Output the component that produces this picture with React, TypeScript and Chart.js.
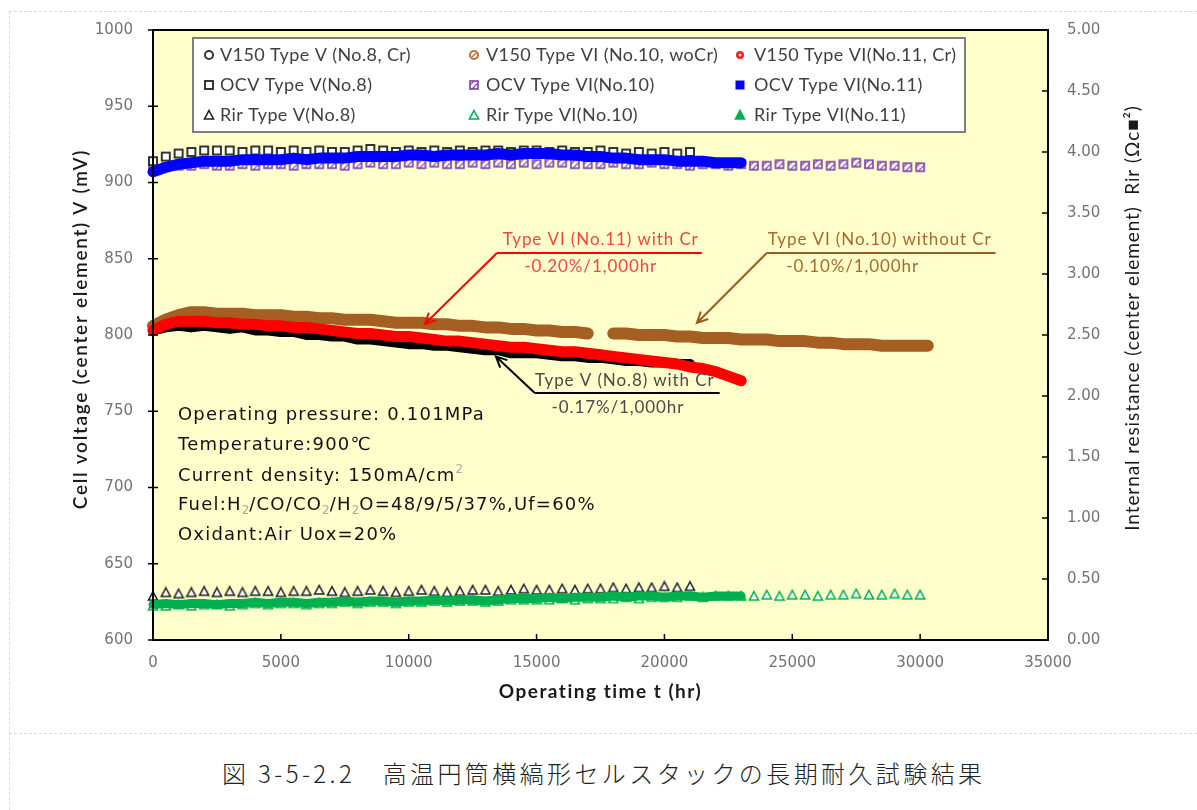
import React, { useEffect, useRef } from "react";
import { Chart, registerables } from "chart.js";

Chart.register(...registerables);

// Operating hours at which each cell was sampled
const hoursNo8 = [0, 500, 1000, 1500, 2000, 2500, 3000, 3500, 4000, 4500, 5000, 5500, 6000, 6500, 7000, 7500, 8000, 8500, 9000, 9500, 10000, 10500, 11000, 11500, 12000, 12500, 13000, 13500, 14000, 14500, 15000, 15500, 16000, 16500, 17000, 17500, 18000, 18500, 19000, 19500, 20000, 20500, 21000];
const hoursNo10 = [0, 500, 1000, 1500, 2000, 2500, 3000, 3500, 4000, 4500, 5000, 5500, 6000, 6500, 7000, 7500, 8000, 8500, 9000, 9500, 10000, 10500, 11000, 11500, 12000, 12500, 13000, 13500, 14000, 14500, 15000, 15500, 16000, 16500, 17000, 17500, 18000, 18500, 19000, 19500, 20000, 20500, 21000, 21500, 22000, 22500, 23000, 23500, 24000, 24500, 25000, 25500, 26000, 26500, 27000, 27500, 28000, 28500, 29000, 29500, 30000, 30300];
const hoursNo11 = [0, 500, 1000, 1500, 2000, 2500, 3000, 3500, 4000, 4500, 5000, 5500, 6000, 6500, 7000, 7500, 8000, 8500, 9000, 9500, 10000, 10500, 11000, 11500, 12000, 12500, 13000, 13500, 14000, 14500, 15000, 15500, 16000, 16500, 17000, 17500, 18000, 18500, 19000, 19500, 20000, 20500, 21000, 21500, 22000, 22500, 23000];

// Cell voltage at 150 mA/cm2 (mV)
const v150No8 = [803, 805, 806, 805, 806, 805, 804, 805, 803, 803, 802, 802, 800, 800, 799, 799, 797, 797, 796, 795, 794, 794, 793, 793, 792, 791, 790, 790, 788, 788, 788, 787, 786, 786, 785, 785, 784, 783, 783, 782, 782, 781, 781];
const v150No10 = [806, 810, 813, 815, 815, 814, 814, 814, 813, 813, 813, 812, 812, 811, 811, 810, 810, 810, 809, 808, 808, 808, 807, 807, 806, 806, 805, 805, 804, 804, 803, 803, 802, 802, 801, null, 801, 801, 800, 800, 800, 799, 799, 798, 798, 798, 797, 797, 797, 796, 796, 796, 795, 795, 794, 794, 794, 793, 793, 793, 793, 793];
const v150No11 = [803, 807, 809, 809, 809, 808, 808, 807, 807, 806, 806, 805, 805, 804, 803, 802, 801, 801, 800, 799, 799, 798, 797, 796, 796, 795, 794, 793, 792, 792, 791, 790, 789, 789, 788, 787, 786, 785, 784, 783, 782, 781, 779, 778, 776, 773, 770];

// Open circuit voltage (mV)
const ocvNo8 = [914, 917, 919, 920, 921, 921, 921, 920, 921, 921, 920, 921, 920, 921, 920, 920, 921, 922, 921, 920, 921, 920, 921, 920, 921, 920, 921, 921, 920, 921, 921, 920, 921, 920, 920, 921, 920, 919, 920, 919, 920, 919, 920];
const ocvNo10 = [909, 910, 911, 911, 912, 911, 911, 912, 911, 912, 912, 911, 912, 912, 912, 911, 912, 913, 912, 912, 913, 912, 913, 912, 912, 913, 912, 913, 912, 913, 912, 913, 913, 912, 912, 912, 913, 912, 912, 913, 912, 912, 911, 912, 912, 911, 912, 911, 911, 912, 911, 911, 912, 911, 912, 913, 912, 911, 911, 910, 910, null];
const ocvNo11 = [907, 910, 912, 913, 914, 914, 914, 915, 915, 915, 915, 916, 915, 916, 916, 916, 917, 917, 917, 917, 918, 918, 917, 918, 918, 918, 918, 919, 918, 919, 919, 919, 918, 918, 917, 917, 916, 916, 915, 915, 915, 914, 914, 914, 913, 913, 913];

// Internal resistance (ohm cm2)
const rirNo8 = [0.36, 0.39, 0.38, 0.39, 0.40, 0.39, 0.40, 0.39, 0.40, 0.40, 0.39, 0.40, 0.40, 0.41, 0.40, 0.39, 0.40, 0.41, 0.40, 0.39, 0.40, 0.41, 0.40, 0.39, 0.40, 0.41, 0.41, 0.40, 0.41, 0.42, 0.41, 0.41, 0.42, 0.41, 0.42, 0.42, 0.43, 0.42, 0.43, 0.43, 0.44, 0.43, 0.44];
const rirNo10 = [0.28, 0.28, 0.29, 0.28, 0.29, 0.29, 0.28, 0.29, 0.30, 0.29, 0.30, 0.30, 0.29, 0.30, 0.30, 0.31, 0.30, 0.31, 0.31, 0.30, 0.31, 0.31, 0.32, 0.31, 0.32, 0.32, 0.31, 0.32, 0.33, 0.33, 0.33, 0.33, 0.34, 0.33, 0.34, 0.34, 0.34, 0.35, 0.34, 0.35, 0.35, 0.35, 0.36, 0.35, 0.36, 0.36, 0.36, 0.36, 0.37, 0.36, 0.37, 0.37, 0.36, 0.37, 0.37, 0.38, 0.37, 0.37, 0.38, 0.37, 0.37, null];
const rirNo11 = [0.29, 0.30, 0.29, 0.30, 0.30, 0.29, 0.30, 0.30, 0.31, 0.30, 0.31, 0.31, 0.30, 0.31, 0.31, 0.32, 0.31, 0.32, 0.32, 0.31, 0.32, 0.32, 0.33, 0.32, 0.33, 0.33, 0.32, 0.33, 0.34, 0.34, 0.34, 0.35, 0.34, 0.35, 0.35, 0.35, 0.36, 0.35, 0.36, 0.36, 0.35, 0.36, 0.36, 0.35, 0.36, 0.36, 0.36];

// Axis tick values
const timeTicks = [0, 5000, 10000, 15000, 20000, 25000, 30000, 35000];
const voltageTicks = [600, 650, 700, 750, 800, 850, 900, 950, 1000];
const resistanceTicks = [0, 0.5, 1, 1.5, 2, 2.5, 3, 3.5, 4, 4.5, 5];

const seriesNames = [
  "V150 Type V (No.8, Cr)",
  "V150 Type VI (No.10, woCr)",
  "V150 Type VI(No.11, Cr)",
  "OCV Type V(No.8)",
  "OCV Type VI(No.10)",
  "OCV Type VI(No.11)",
  "Rir Type V(No.8)",
  "Rir Type VI(No.10)",
  "Rir Type VI(No.11)",
];

const conditionLines = [
  [{ t: "Operating pressure: 0.101MPa" }],
  [{ t: "Temperature:900℃" }],
  [{ t: "Current density: 150mA/cm" }, { t: "2", k: "sup" }],
  [{ t: "Fuel:H" }, { t: "2", k: "sub" }, { t: "/CO/CO" }, { t: "2", k: "sub" }, { t: "/H" }, { t: "2", k: "sub" }, { t: "O=48/9/5/37%,Uf=60%" }],
  [{ t: "Oxidant:Air Uox=20%" }],
];

const BROWN = "#A55F22";
const RED = "#FF0000";
const GREEN = "#00B050";
const BLUE = "#0000FF";
const PURPLE = "#7B3FA8";

const pts = (hours: number[], vals: (number | null)[]) => hours.map((x, i) => ({ x, y: vals[i] }));

function mk(w: number, h: number, draw: (g: CanvasRenderingContext2D) => void) {
  const c = document.createElement("canvas");
  c.width = w;
  c.height = h;
  draw(c.getContext("2d")!);
  return c;
}

function spacing(ctx: any, px: number) {
  ctx.letterSpacing = px + "px";
}

function arrow(ctx: CanvasRenderingContext2D, x0: number, y0: number, x1: number, y1: number, color: string) {
  ctx.save();
  ctx.strokeStyle = color;
  ctx.lineWidth = 2;
  ctx.beginPath();
  ctx.moveTo(x0, y0);
  ctx.lineTo(x1, y1);
  const a = Math.atan2(y1 - y0, x1 - x0);
  const L = 12;
  ctx.moveTo(x1 - L * Math.cos(a - 0.45), y1 - L * Math.sin(a - 0.45));
  ctx.lineTo(x1, y1);
  ctx.lineTo(x1 - L * Math.cos(a + 0.45), y1 - L * Math.sin(a + 0.45));
  ctx.stroke();
  ctx.restore();
}

function rich(ctx: CanvasRenderingContext2D, segs: any[], x: number, y: number) {
  let cx = x;
  for (const s of segs) {
    ctx.font = s.k ? "12px 'DejaVu Sans'" : "18px 'DejaVu Sans'";
    spacing(ctx, s.k ? 0 : 1.2);
    ctx.fillStyle = s.k ? "#a8a8a8" : "#111";
    const dy = s.k === "sub" ? 6 : s.k === "sup" ? -6 : 0;
    ctx.fillText(s.t, cx, y + dy);
    cx += ctx.measureText(s.t).width;
  }
  spacing(ctx, 0);
}

export default function App() {
  const ref = useRef<HTMLCanvasElement>(null);

  useEffect(() => {
    const canvas = ref.current!;

    const circOpenBlack = mk(12, 12, (g) => {
      g.beginPath(); g.arc(6, 6, 4, 0, Math.PI * 2);
      g.fillStyle = "#fff"; g.fill(); g.lineWidth = 2; g.strokeStyle = "#333"; g.stroke();
    });
    const circBrown = mk(12, 12, (g) => {
      g.beginPath(); g.arc(6, 6, 4, 0, Math.PI * 2);
      g.fillStyle = "#fff"; g.fill(); g.lineWidth = 2.2; g.strokeStyle = "#B8743A"; g.stroke();
      g.beginPath(); g.moveTo(4, 8); g.lineTo(8, 4); g.lineWidth = 1.5; g.stroke();
    });
    const circRed = mk(12, 12, (g) => {
      g.beginPath(); g.arc(6, 6, 4, 0, Math.PI * 2);
      g.fillStyle = "#FF2020"; g.fill();
      g.beginPath(); g.moveTo(6, 4.3); g.lineTo(7.7, 6); g.lineTo(6, 7.7); g.lineTo(4.3, 6); g.closePath();
      g.fillStyle = "#fff"; g.fill();
    });
    const sqOpenBlack = mk(12, 12, (g) => {
      g.fillStyle = "#fff"; g.fillRect(2, 2, 8, 8);
      g.lineWidth = 1.8; g.strokeStyle = "#222"; g.strokeRect(2, 2, 8, 8);
    });
    const sqHatch = mk(12, 12, (g) => {
      g.fillStyle = "#fff"; g.fillRect(2, 2, 8, 8);
      g.save(); g.beginPath(); g.rect(2, 2, 8, 8); g.clip();
      g.strokeStyle = PURPLE; g.lineWidth = 1.2;
      g.beginPath(); g.moveTo(3, 11); g.lineTo(11, 3); g.moveTo(-1, 9); g.lineTo(7, 1); g.stroke();
      g.restore();
      g.lineWidth = 1.6; g.strokeStyle = PURPLE; g.strokeRect(2, 2, 8, 8);
    });
    const sqBlue = mk(12, 12, (g) => { g.fillStyle = BLUE; g.fillRect(1.5, 1.5, 9, 9); });
    const tri = (fill: string, stroke: string) => mk(12, 12, (g) => {
      g.beginPath(); g.moveTo(6, 1.5); g.lineTo(10.5, 10); g.lineTo(1.5, 10); g.closePath();
      g.fillStyle = fill; g.fill(); g.lineWidth = 1.6; g.strokeStyle = stroke; g.stroke();
    });
    const triOpenBlack = tri("#fff", "#222");
    const triOpenGreen = tri("#fff", GREEN);
    const triGreen = tri(GREEN, GREEN);

    const legendMarkers = [circOpenBlack, circBrown, circRed, sqOpenBlack, sqHatch, sqBlue, triOpenBlack, triOpenGreen, triGreen];

    const band = (color: string, width: number, radius: number, style: any) => ({
      showLine: true,
      borderColor: color,
      borderWidth: width,
      borderCapStyle: "round",
      borderJoinStyle: "round",
      tension: 0,
      pointRadius: radius,
      pointStyle: style,
      pointBackgroundColor: color,
      pointBorderColor: color,
      pointBorderWidth: 0,
      clip: 6,
    });
    const marks = (img: HTMLCanvasElement) => ({
      showLine: false,
      pointStyle: img,
      pointRadius: 5,
      clip: 6,
    });

    const decor = {
      id: "decor",
      beforeDraw(c: any) {
        const { ctx, chartArea: a } = c;
        ctx.save();
        ctx.fillStyle = "#FFFFCC";
        ctx.fillRect(a.left, a.top, a.right - a.left, a.bottom - a.top);
        ctx.restore();
      },
      afterDraw(c: any) {
        const { ctx, chartArea: a, scales } = c;
        const X = (v: number) => scales.x.getPixelForValue(v);
        const Y = (v: number) => scales.y.getPixelForValue(v);
        const Y1 = (v: number) => scales.y1.getPixelForValue(v);
        ctx.save();

        // plot frame and tick marks
        ctx.strokeStyle = "#000";
        ctx.lineWidth = 2;
        ctx.strokeRect(a.left, a.top, a.right - a.left, a.bottom - a.top);
        ctx.lineWidth = 1.5;
        ctx.beginPath();
        voltageTicks.forEach((v) => { ctx.moveTo(a.left - 5, Y(v)); ctx.lineTo(a.left + 5, Y(v)); });
        resistanceTicks.forEach((v) => { ctx.moveTo(a.right, Y1(v)); ctx.lineTo(a.right - 6, Y1(v)); });
        timeTicks.forEach((v) => { ctx.moveTo(X(v), a.bottom); ctx.lineTo(X(v), a.bottom - 6); });
        ctx.stroke();

        // axis titles
        ctx.fillStyle = "#1a1a1a";
        ctx.textAlign = "center";
        ctx.textBaseline = "middle";
        ctx.font = "bold 19px Lato";
        spacing(ctx, 1.5);
        ctx.fillText("Operating time t (hr)", (a.left + a.right) / 2, 692);
        ctx.save();
        ctx.translate(81, 329);
        ctx.rotate(-Math.PI / 2);
        ctx.font = "600 19px Lato";
        spacing(ctx, 1.7);
        ctx.fillText("Cell voltage (center element) V (mV)", 0, 0);
        ctx.restore();
        ctx.save();
        ctx.translate(1133, 318);
        ctx.rotate(-Math.PI / 2);
        ctx.font = "19px Lato";
        spacing(ctx, 0.9);
        ctx.fillText("Internal resistance (center element)  Rir (Ωc■²)", 0, 0);
        ctx.restore();

        // legend box
        ctx.fillStyle = "#fff";
        ctx.fillRect(193, 38, 772, 94);
        ctx.strokeStyle = "#7f7f7f";
        ctx.lineWidth = 2;
        ctx.strokeRect(193, 38, 772, 94);
        const colMark = [209, 474, 740];
        const colText = [220, 486, 754];
        const rows = [55, 85, 115];
        ctx.textAlign = "left";
        ctx.font = "18px Lato";
        spacing(ctx, 0.4);
        ctx.fillStyle = "#404040";
        seriesNames.forEach((name, i) => {
          const r = Math.floor(i / 3), col = i % 3;
          ctx.drawImage(legendMarkers[i], colMark[col] - 6, rows[r] - 6);
          ctx.fillText(name, colText[col], rows[r]);
        });
        spacing(ctx, 0);

        // operating conditions
        ctx.textAlign = "left";
        const condRows = [415, 445, 476, 505, 535];
        conditionLines.forEach((segs, i) => rich(ctx, segs, 178, condRows[i]));

        // degradation rate annotations
        ctx.font = "17px Lato";
        spacing(ctx, 0.9);
        ctx.textAlign = "center";
        // Type VI No.11
        ctx.strokeStyle = RED;
        ctx.lineWidth = 2;
        ctx.beginPath(); ctx.moveTo(X(13450), Y(853.8)); ctx.lineTo(X(21460), Y(853.8)); ctx.stroke();
        arrow(ctx, X(13450), Y(853.8), X(10630), Y(807.2), RED);
        ctx.fillStyle = "#F04545";
        ctx.fillText("Type VI (No.11) with Cr", X(17510), Y(862.6));
        ctx.fillText("-0.20%/1,000hr", X(17120), Y(845.0));
        // Type VI No.10
        ctx.strokeStyle = "#9C5A1E";
        ctx.beginPath(); ctx.moveTo(X(24000), Y(853.8)); ctx.lineTo(X(32950), Y(853.8)); ctx.stroke();
        arrow(ctx, X(24000), Y(853.8), X(21270), Y(807.9), "#9C5A1E");
        ctx.fillStyle = "#A8682E";
        ctx.fillText("Type VI (No.10) without Cr", X(28420), Y(862.6));
        ctx.fillText("-0.10%/1,000hr", X(27360), Y(845.0));
        // Type V No.8
        ctx.strokeStyle = "#000";
        ctx.beginPath(); ctx.moveTo(X(14930), Y(762)); ctx.lineTo(X(22160), Y(762)); ctx.stroke();
        arrow(ctx, X(14930), Y(762), X(13410), Y(785.9), "#000");
        ctx.fillStyle = "#4a4a4a";
        ctx.fillText("Type V (No.8) with Cr", X(18450), Y(770.4));
        ctx.fillText("-0.17%/1,000hr", X(18180), Y(752.6));
        spacing(ctx, 0);

        ctx.restore();
      },
    };

    const tickFont = { family: "'DejaVu Sans'", size: 15 };
    const tickColor = "#737373";

    const chart = new Chart(canvas, {
      type: "scatter",
      data: {
        datasets: [
          { label: seriesNames[0], data: pts(hoursNo8, v150No8), yAxisID: "y", order: 3, ...band("#000", 10, 4.5, "circle") },
          { label: seriesNames[1], data: pts(hoursNo10, v150No10), yAxisID: "y", order: 2, ...band(BROWN, 12, 5, "circle") },
          { label: seriesNames[2], data: pts(hoursNo11, v150No11), yAxisID: "y", order: 1, ...band(RED, 11, 5, "circle") },
          { label: seriesNames[3], data: pts(hoursNo8, ocvNo8), yAxisID: "y", order: 5, ...marks(sqOpenBlack) },
          { label: seriesNames[4], data: pts(hoursNo10, ocvNo10), yAxisID: "y", order: 6, ...marks(sqHatch) },
          { label: seriesNames[5], data: pts(hoursNo11, ocvNo11), yAxisID: "y", order: 4, ...band(BLUE, 11, 5, "rect") },
          { label: seriesNames[6], data: pts(hoursNo8, rirNo8), yAxisID: "y1", order: 9, ...marks(triOpenBlack) },
          { label: seriesNames[7], data: pts(hoursNo10, rirNo10), yAxisID: "y1", order: 8, ...marks(triOpenGreen) },
          { label: seriesNames[8], data: pts(hoursNo11, rirNo11), yAxisID: "y1", order: 7, ...band(GREEN, 9, 4.5, "triangle") },
        ] as any,
      },
      options: {
        responsive: false,
        animation: false,
        devicePixelRatio: 1,
        layout: { padding: { top: 30, left: 0, right: 0, bottom: 0 } },
        plugins: { legend: { display: false }, tooltip: { enabled: false } },
        scales: {
          x: {
            type: "linear",
            min: 0,
            max: 35000,
            afterBuildTicks: (s: any) => { s.ticks = timeTicks.map((value) => ({ value })); },
            ticks: { callback: (v: any) => String(v), color: tickColor, font: tickFont, padding: 14, maxRotation: 0, autoSkip: false },
            grid: { display: false, drawTicks: false },
            border: { display: false },
            afterFit: (s: any) => { s.height = 100; },
          },
          y: {
            position: "left",
            min: 600,
            max: 1000,
            afterBuildTicks: (s: any) => { s.ticks = voltageTicks.map((value) => ({ value })); },
            ticks: { callback: (v: any) => String(v), color: tickColor, font: tickFont, padding: 20, autoSkip: false },
            grid: { display: false, drawTicks: false },
            border: { display: false },
            afterFit: (s: any) => { s.width = 153; },
          },
          y1: {
            position: "right",
            min: 0,
            max: 5,
            afterBuildTicks: (s: any) => { s.ticks = resistanceTicks.map((value) => ({ value })); },
            ticks: { callback: (v: any) => Number(v).toFixed(2), color: tickColor, font: tickFont, padding: 19, autoSkip: false },
            grid: { display: false, drawTicks: false },
            border: { display: false },
            afterFit: (s: any) => { s.width = 149; },
          },
        },
      } as any,
      plugins: [decor],
    });
    return () => chart.destroy();
  }, []);

  const dash = "1px dashed #dcdcdc";
  return (
    <div style={{ position: "fixed", left: 0, top: 0, width: 1197, height: 810, background: "#fff", overflow: "hidden" }}>
      <canvas ref={ref} width={1197} height={740} style={{ position: "absolute", left: 0, top: 0, width: 1197, height: 740 }} />
      <div style={{ position: "absolute", left: 9, top: 11, width: 1188, borderTop: dash }} />
      <div style={{ position: "absolute", left: 9, top: 11, height: 799, borderLeft: dash }} />
      <div style={{ position: "absolute", left: 9, top: 733, width: 1188, borderTop: dash }} />
      <div
        style={{
          position: "absolute",
          left: 222,
          top: 757,
          whiteSpace: "nowrap",
          fontFamily: "'Noto Sans CJK JP'",
          fontWeight: 300,
          fontSize: 24,
          letterSpacing: 3.4,
          lineHeight: "32px",
          color: "#222",
        }}
      >
        図 3-5-2.2　高温円筒横縞形セルスタックの長期耐久試験結果
      </div>
    </div>
  );
}
